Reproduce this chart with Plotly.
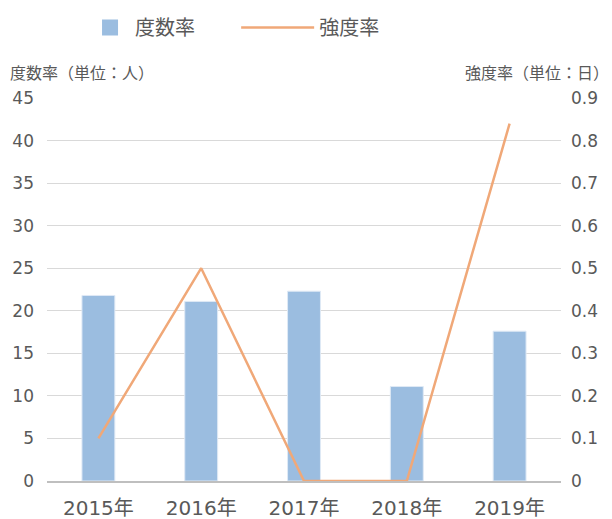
import plotly.graph_objects as go

years = ["2015年", "2016年", "2017年", "2018年", "2019年"]
frequency = [21.8, 21.1, 22.3, 11.1, 17.6]
severity = [0.10, 0.50, 0.00, 0.00, 0.84]

FONT = "DejaVu Sans, Noto Sans CJK JP, sans-serif"
CJK = "Noto Sans CJK JP, sans-serif"
GRAY = "#595959"
BAR = "#9bbde0"
LINE = "#f0a878"

fig = go.Figure()
fig.add_trace(go.Bar(x=years, y=frequency, name="度数率", showlegend=False,
                     marker=dict(color=BAR, line=dict(color="#dfe9f5", width=1)),
                     yaxis="y"))
fig.add_trace(go.Scatter(x=[None], y=[None], name="度数率", mode="markers",
                         marker=dict(symbol="square", size=21, color=BAR), yaxis="y",
                         legend="legend"))
fig.add_trace(go.Scatter(x=years, y=severity, name="強度率", mode="lines",
                         line=dict(color=LINE, width=2.5), yaxis="y2", legend="legend2"))

legend_common = dict(orientation="h", xanchor="left", y=1.235, yanchor="top",
                     font=dict(size=20, color=GRAY, family=CJK), bgcolor="rgba(0,0,0,0)")

fig.update_layout(
    width=612, height=519,
    margin=dict(l=39, r=59, t=90, b=46, autoexpand=False),
    paper_bgcolor="white", plot_bgcolor="white",
    font=dict(family=FONT, color=GRAY, size=17),
    bargap=0.68,
    showlegend=True,
    legend=dict(x=0.074, itemwidth=40, **legend_common),
    legend2=dict(x=0.368, itemwidth=73, **legend_common),
    xaxis=dict(showgrid=False, showline=True, linecolor="#bfbfbf", linewidth=1.5,
               ticks="", ticklabelstandoff=8, tickfont=dict(size=20, color=GRAY)),
    yaxis=dict(range=[0, 45], dtick=5, showgrid=True, gridcolor="#d9d9d9", gridwidth=1,
               zeroline=False, showline=False, ticks="", ticklabelstandoff=12,
               tickfont=dict(size=17, color=GRAY)),
    yaxis2=dict(range=[0, 0.9], dtick=0.1, overlaying="y", side="right", showgrid=False,
                zeroline=False, showline=False, ticks="", ticklabelstandoff=9,
                tickfont=dict(size=17, color=GRAY)),
    annotations=[
        dict(text="度数率（単位：人）", xref="paper", yref="paper", x=-0.0749, y=1.068,
             xanchor="left", yanchor="middle", showarrow=False, borderpad=0,
             font=dict(size=16, color=GRAY, family=CJK)),
        dict(text="強度率（単位：日）", xref="paper", yref="paper", x=1.096, y=1.068,
             xanchor="right", yanchor="middle", showarrow=False, borderpad=0,
             font=dict(size=16, color=GRAY, family=CJK)),
    ],
)

fig.write_html("out.html")
